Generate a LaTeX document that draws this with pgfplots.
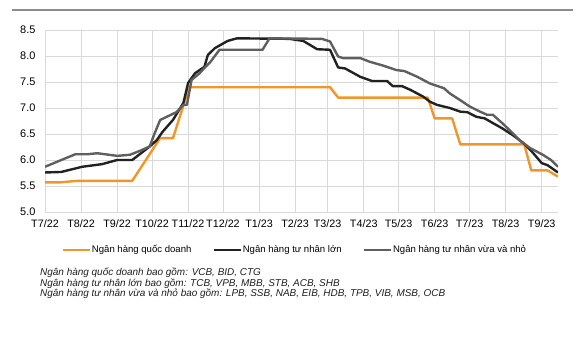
\documentclass[border=0pt]{standalone}
\usepackage{fontspec}
\setmainfont{Liberation Sans}
\usepackage{pgfplots}
\pgfplotsset{compat=1.18}
\usepackage{pgfplotstable}
\definecolor{cOrange}{RGB}{240,150,42}
\definecolor{cBlack}{RGB}{34,34,34}
\definecolor{cGray}{RGB}{95,95,95}
\definecolor{cGrid}{RGB}{217,217,217}
\definecolor{cRule}{RGB}{140,140,140}

% x = days since 1 Jul 2022
\pgfplotstableread{
d v
0 5.57
13 5.57
28 5.60
75 5.60
99 6.42
110 6.42
124 7.40
245 7.40
252 7.20
329 7.20
335 6.80
350 6.80
357 6.30
412 6.30
418 5.80
432 5.80
441 5.68
}\stateT

\pgfplotstableread{
d v
0 5.76
14 5.77
32 5.87
49 5.92
62 6.00
75 6.00
90 6.26
96 6.38
101 6.54
110 6.77
119 7.10
123 7.48
129 7.67
137 7.79
140 8.02
146 8.15
157 8.29
165 8.34
210 8.33
222 8.29
234 8.13
245 8.12
252 7.78
258 7.76
271 7.60
281 7.52
294 7.52
299 7.42
307 7.42
314 7.35
325 7.22
331 7.12
337 7.06
348 7.00
357 6.93
363 6.92
371 6.83
378 6.80
385 6.71
393 6.61
402 6.48
411 6.33
419 6.15
427 5.94
432 5.90
441 5.76
}\bigT

\pgfplotstableread{
d v
0 5.87
13 5.99
26 6.11
36 6.11
45 6.13
62 6.08
73 6.10
82 6.18
90 6.26
94 6.50
99 6.77
113 6.92
119 7.06
122 7.06
126 7.54
133 7.67
137 7.77
142 7.88
150 8.12
187 8.12
193 8.34
238 8.33
245 8.28
252 7.99
256 7.96
271 7.96
279 7.89
290 7.82
302 7.73
309 7.71
320 7.60
331 7.47
343 7.38
348 7.28
357 7.15
365 7.03
374 6.93
380 6.87
385 6.87
393 6.71
401 6.54
408 6.38
417 6.23
428 6.10
435 6.00
441 5.87
}\smallT

\begin{document}
\begin{tikzpicture}
\useasboundingbox (-45bp,-146bp) rectangle (540bp,212bp);
\draw[cRule, line width=1.2bp] (-33bp,202bp) -- (528bp,202bp);
\begin{axis}[
  at={(0bp,0bp)}, anchor=south west,
  scale only axis, width=513bp, height=182bp,
  xmin=0, xmax=441, ymin=5, ymax=8.5,
  xtick={0,31,62,92,123,153,184,215,243,274,304,335,365,396,427},
  xticklabels={T7/22,T8/22,T9/22,T10/22,T11/22,T12/22,T1/23,T2/23,T3/23,T4/23,T5/23,T6/23,T7/23,T8/23,T9/23},
  ytick={5,5.5,6,6.5,7,7.5,8,8.5},
  /pgf/number format/.cd, fixed, fixed zerofill, precision=1, assume math mode=true,
  /pgfplots/.cd,
  grid=major,
  major grid style={cGrid, line width=0.9bp},
  axis line style={draw=none},
  tick style={draw=none},
  xticklabel style={font=\fontsize{10.8}{12}\selectfont, text=black, yshift=-4bp},
  yticklabel style={font=\fontsize{11}{12}\selectfont, text=black, xshift=-6bp},
  legend style={at={(0.486,-0.209)}, anchor=center, draw=none, fill=none,
    legend columns=3, font=\fontsize{9.6}{11}\selectfont,
    /tikz/every even column/.append style={column sep=20bp},
    nodes={inner sep=1bp}},
  legend image code/.code={\draw[#1] (0bp,0bp) -- (27bp,0bp);},
  every axis plot/.append style={line width=2.4bp, line join=round, no markers},
]
\addplot[cOrange] table[x=d,y=v] {\stateT};
\addlegendentry{Ngân hàng quốc doanh}
\addplot[cBlack] table[x=d,y=v] {\bigT};
\addlegendentry{Ngân hàng tư nhân lớn}
\addplot[cGray] table[x=d,y=v] {\smallT};
\addlegendentry{Ngân hàng tư nhân vừa và nhỏ}
\end{axis}
\begin{scope}[every node/.style={anchor=west, inner sep=0pt, font=\itshape\fontsize{10}{11}\selectfont, text={rgb,255:red,30;green,30;blue,30}}]
\node at (-5bp,-61bp) {Ngân hàng quốc doanh bao gồm: VCB, BID, CTG};
\node at (-5bp,-71.5bp) {Ngân hàng tư nhân lớn bao gồm: TCB, VPB, MBB, STB, ACB, SHB};
\node at (-5bp,-82bp) {Ngân hàng tư nhân vừa và nhỏ bao gồm: LPB, SSB, NAB, EIB, HDB, TPB, VIB, MSB, OCB};
\end{scope}
\end{tikzpicture}
\end{document}
